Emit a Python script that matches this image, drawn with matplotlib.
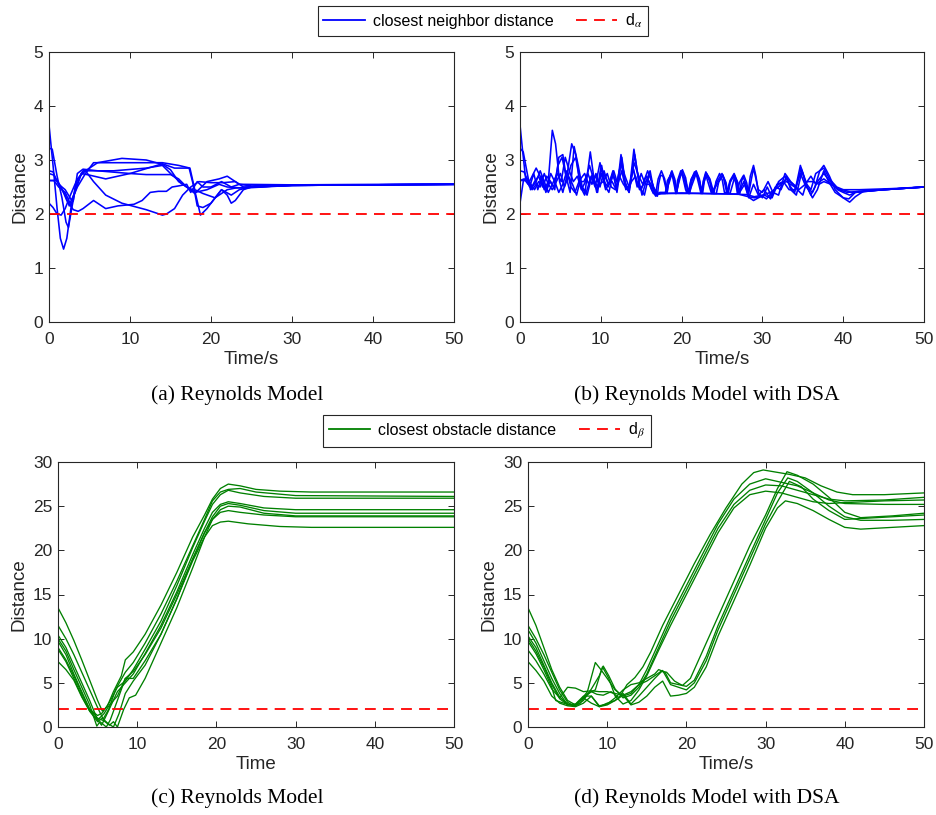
import matplotlib
matplotlib.use("Agg")
import matplotlib.pyplot as plt
from matplotlib.lines import Line2D

# ---- data: (time, distance) samples ----
A_CURVES = [
    [(0, 3.65), (0.5, 2.9), (1, 2.1), (1.4, 1.55), (1.8, 1.35), (2.2, 1.55), (2.7, 2.1), (3.4, 2.6), (4.2, 2.8), (5, 2.8), (8, 2.8), (12, 2.85), (14, 2.9), (15, 2.75), (16.5, 2.55), (18, 2.4), (19.5, 2.45), (21, 2.55), (22, 2.5), (24, 2.48), (30, 2.53), (50, 2.55)],
    [(0, 3.22), (0.4, 3.2), (1, 2.7), (1.6, 2.3), (2.1, 1.85), (2.4, 1.75), (2.8, 2.1), (3.3, 2.5), (4, 2.75), (5, 2.72), (7, 2.65), (10, 2.75), (14, 2.93), (15.5, 2.85), (17.3, 2.85), (17.8, 2.55), (18.3, 2.15), (19, 2.12), (20, 2.2), (21.3, 2.45), (22.5, 2.35), (23.5, 2.45), (25, 2.5), (30, 2.53), (50, 2.55)],
    [(0, 2.8), (0.5, 2.78), (1, 2.6), (2, 2.35), (2.5, 2.15), (3, 2.25), (3.5, 2.75), (4.2, 2.83), (6, 2.8), (10, 2.75), (12, 2.73), (15, 2.73), (16, 2.65), (17, 2.5), (18, 2.38), (19.5, 2.6), (21, 2.65), (22, 2.7), (23.5, 2.55), (25, 2.52), (30, 2.54), (50, 2.55)],
    [(0, 2.62), (1, 2.62), (1.5, 2.5), (2.2, 2.25), (3, 2.08), (3.6, 2.05), (4.2, 2.1), (5.5, 2.25), (7, 2.1), (8.5, 2.15), (10.5, 2.18), (11.5, 2.25), (12.5, 2.4), (13.5, 2.42), (14.5, 2.42), (15.2, 2.5), (16, 2.52), (17, 2.55), (17.5, 2.4), (18.3, 2.6), (19, 2.5), (20, 2.5), (21.3, 2.6), (22.5, 2.5), (23.5, 2.55), (30, 2.54), (50, 2.55)],
    [(0, 2.2), (0.5, 2.12), (1, 2.0), (1.5, 1.98), (2, 2.1), (2.5, 2.3), (3.5, 2.65), (4.5, 2.8), (5.5, 2.6), (7, 2.35), (9, 2.2), (12, 2.08), (14, 1.98), (14.5, 2.0), (15.5, 2.1), (16.5, 2.35), (17.5, 2.5), (18.5, 2.6), (20, 2.58), (21.5, 2.58), (23, 2.6), (24, 2.5), (30, 2.53), (50, 2.55)],
    [(0, 2.62), (0.6, 2.62), (1.2, 2.5), (2, 2.4), (2.6, 2.2), (3.2, 2.4), (4, 2.75), (5, 2.85), (6, 2.95), (9, 3.03), (12, 3.0), (14, 2.92), (15, 2.82), (16, 2.6), (17, 2.5), (18, 2.43), (18.7, 1.98), (19.5, 2.1), (20.5, 2.3), (22, 2.45), (23, 2.48), (25, 2.5), (30, 2.53), (50, 2.55)],
    [(0, 2.75), (0.6, 2.72), (1.2, 2.55), (2, 2.45), (2.8, 2.25), (3.5, 2.5), (4.5, 2.75), (5.5, 2.95), (7, 2.95), (10, 2.95), (14, 2.95), (16, 2.9), (17.4, 2.85), (18, 2.45), (19, 2.38), (20.5, 2.3), (21.3, 2.45), (22, 2.35), (22.5, 2.2), (23, 2.25), (24, 2.45), (25, 2.5), (30, 2.53), (50, 2.55)],
]

B_CURVES = [
    [(0, 2.62), (0.5, 2.65), (1, 2.55), (1.5, 2.7), (2, 2.85), (2.5, 2.7), (3, 2.45), (3.5, 2.6), (4, 3.55), (4.4, 3.3), (4.9, 2.6), (5.3, 2.4), (5.8, 2.7), (6.4, 3.3), (6.9, 3.1), (7.5, 2.5), (8, 2.35), (8.7, 3.15), (9.2, 2.6), (9.6, 2.4), (10.1, 2.9), (10.6, 2.5), (11, 2.4), (11.5, 2.75), (12, 2.45), (12.5, 3.1), (13, 2.6), (13.5, 2.4), (14.1, 3.2), (14.6, 2.7), (15.1, 2.35), (15.6, 2.6), (16.1, 2.8), (16.6, 2.4), (17, 2.33), (17.15, 2.55), (17.4, 2.72), (17.7, 2.7), (17.95, 2.55), (18.2, 2.38), (18.4, 2.62), (18.75, 2.78), (19.1, 2.62), (19.3, 2.38), (19.5, 2.62), (19.9, 2.8), (20.3, 2.68), (20.6, 2.55), (20.9, 2.38), (21.15, 2.62), (21.6, 2.78), (22.0, 2.68), (22.35, 2.5), (22.6, 2.38), (22.8, 2.6), (23.1, 2.75), (23.5, 2.65), (24, 2.38), (24.25, 2.6), (24.7, 2.75), (25.05, 2.62), (25.3, 2.4), (25.8, 2.4), (26.0, 2.58), (26.4, 2.7), (26.7, 2.58), (26.9, 2.38), (27.15, 2.58), (27.6, 2.7), (27.95, 2.55), (28.2, 2.35), (28.5, 2.7), (28.9, 2.9), (29.2, 2.7), (29.5, 2.4), (30, 2.3), (30.6, 2.5), (31.2, 2.3), (32, 2.6), (32.8, 2.7), (33.5, 2.5), (34, 2.4), (34.7, 2.9), (35.3, 2.6), (36, 2.35), (36.5, 2.5), (37.1, 2.8), (37.6, 2.9), (38.3, 2.7), (39, 2.45), (40, 2.3), (40.8, 2.22), (41.5, 2.32), (42.5, 2.42), (45, 2.45), (50, 2.5)],
    [(0, 3.65), (0.3, 3.2), (0.7, 2.65), (1.2, 2.5), (1.7, 2.75), (2.2, 2.45), (2.7, 2.7), (3.2, 2.4), (3.7, 2.6), (4.2, 2.5), (4.7, 2.9), (5.2, 3.05), (5.7, 2.7), (6.2, 2.4), (6.7, 3.25), (7.2, 2.9), (7.7, 2.5), (8.2, 2.4), (8.8, 2.7), (9.3, 2.5), (9.9, 2.95), (10.4, 2.6), (10.9, 2.5), (11.5, 2.8), (12, 2.4), (12.6, 3.05), (13.1, 2.5), (13.6, 2.5), (14.2, 3.1), (14.8, 2.5), (15.4, 2.35), (16, 2.75), (16.5, 2.5), (17, 2.38), (18, 2.38), (18.5, 2.6), (18.8, 2.75), (19.3, 2.38), (20, 2.78), (20.5, 2.45), (20.9, 2.38), (21.8, 2.75), (22.4, 2.38), (23, 2.72), (23.7, 2.38), (25.1, 2.72), (25.6, 2.4), (26, 2.38), (26.6, 2.7), (27.1, 2.38), (27.8, 2.55), (28.4, 2.3), (28.9, 2.25), (29.5, 2.3), (30.2, 2.35), (31, 2.3), (31.6, 2.5), (32.3, 2.45), (33, 2.7), (33.5, 2.45), (34.2, 2.35), (34.9, 2.8), (35.5, 2.5), (36.2, 2.3), (36.8, 2.45), (37.6, 2.8), (38.2, 2.6), (39, 2.4), (40, 2.3), (40.7, 2.28), (41.5, 2.4), (45, 2.45), (50, 2.5)],
    [(0, 3.22), (0.4, 3.15), (0.9, 2.75), (1.3, 2.45), (1.8, 2.6), (2.3, 2.7), (2.8, 2.5), (3.3, 2.7), (3.8, 2.6), (4.3, 2.45), (4.8, 3.05), (5.3, 3.1), (5.8, 2.6), (6.3, 2.9), (6.9, 3.05), (7.4, 2.6), (7.9, 2.6), (8.4, 2.75), (8.9, 2.55), (9.4, 2.75), (9.9, 2.5), (10.4, 2.8), (10.9, 2.55), (11.4, 2.6), (11.9, 2.45), (12.5, 2.95), (13, 2.7), (13.5, 2.5), (14, 2.85), (14.5, 2.55), (15, 2.45), (15.6, 2.7), (16.2, 2.55), (16.8, 2.35), (17.5, 2.38), (20, 2.39), (23, 2.38), (26, 2.37), (28, 2.36), (29, 2.32), (30, 2.35), (31, 2.4), (32, 2.5), (33, 2.65), (33.8, 2.55), (34.5, 2.45), (35.3, 2.55), (36, 2.7), (36.6, 2.55), (37.6, 2.65), (38.5, 2.55), (39.5, 2.45), (40.5, 2.45), (42, 2.45), (46, 2.47), (50, 2.5)],
    [(0, 2.8), (0.5, 2.78), (1, 2.6), (1.5, 2.45), (2, 2.55), (2.5, 2.5), (3, 2.75), (3.5, 2.55), (4, 2.45), (4.5, 2.6), (5, 2.75), (5.5, 2.5), (6, 2.7), (6.5, 2.55), (7, 2.35), (7.5, 2.65), (8, 2.75), (8.5, 2.55), (9, 2.75), (9.5, 2.4), (10, 2.85), (10.5, 2.7), (11, 2.55), (11.5, 2.7), (12, 2.6), (12.5, 2.95), (13, 2.55), (13.5, 2.4), (14, 2.85), (14.5, 2.5), (15, 2.75), (15.5, 2.55), (16, 2.55), (16.5, 2.38), (17.5, 2.38), (22, 2.38), (27, 2.37), (28, 2.33), (29, 2.3), (30, 2.33), (30.5, 2.28), (31.2, 2.4), (32, 2.55), (33, 2.6), (34, 2.5), (35, 2.35), (35.5, 2.6), (36.3, 2.6), (37, 2.55), (37.6, 2.6), (38.5, 2.55), (39.5, 2.45), (40.5, 2.4), (42, 2.42), (46, 2.46), (50, 2.5)],
    [(0, 2.2), (0.4, 2.6), (0.8, 2.68), (1.3, 2.55), (1.8, 2.45), (2.3, 2.6), (2.8, 2.55), (3.3, 2.45), (3.8, 2.75), (4.3, 2.6), (4.8, 2.4), (5.3, 2.55), (5.8, 2.8), (6.3, 2.5), (6.8, 2.4), (7.3, 2.6), (7.8, 2.45), (8.3, 2.35), (8.8, 2.65), (9.3, 2.7), (9.8, 2.55), (10.3, 2.6), (10.8, 2.75), (11.3, 2.5), (11.8, 2.45), (12.3, 2.7), (12.8, 2.55), (13.3, 2.45), (13.8, 2.6), (14.3, 2.7), (14.8, 2.45), (15.3, 2.55), (15.8, 2.65), (16.3, 2.45), (16.8, 2.33), (17.3, 2.4), (18, 2.4), (18.25, 2.62), (18.75, 2.75), (19.15, 2.62), (19.4, 2.4), (19.6, 2.62), (20, 2.8), (20.4, 2.62), (20.6, 2.4), (21, 2.38), (21.3, 2.62), (21.8, 2.78), (22.25, 2.6), (22.5, 2.38), (22.7, 2.6), (23, 2.75), (23.5, 2.6), (23.8, 2.38), (24.3, 2.38), (24.6, 2.6), (25.1, 2.72), (25.5, 2.58), (25.7, 2.38), (26, 2.6), (26.5, 2.72), (26.95, 2.58), (27.2, 2.38), (27.4, 2.6), (27.7, 2.72), (28.05, 2.58), (28.3, 2.38), (28.9, 2.85), (29.5, 2.45), (30, 2.4), (30.7, 2.6), (31.3, 2.4), (32, 2.35), (32.8, 2.75), (33.5, 2.6), (34.2, 2.5), (34.8, 2.85), (35.5, 2.55), (36, 2.45), (36.6, 2.75), (37.6, 2.85), (38.3, 2.65), (39.2, 2.5), (40, 2.45), (41, 2.4), (42, 2.42), (46, 2.46), (50, 2.5)],
    [(0, 2.62), (0.5, 2.62), (1, 2.65), (1.5, 2.5), (2, 2.6), (2.5, 2.8), (3, 2.6), (3.5, 2.4), (4, 2.55), (4.6, 2.75), (5.1, 2.6), (5.6, 3.05), (6.1, 2.8), (6.6, 2.6), (7.1, 2.7), (7.6, 2.45), (8.1, 2.6), (8.6, 2.9), (9.1, 2.65), (9.6, 2.5), (10.1, 2.75), (10.6, 2.45), (11.1, 2.6), (11.6, 2.8), (12.1, 2.55), (12.6, 2.8), (13.1, 2.45), (13.6, 2.55), (14.1, 2.95), (14.7, 2.7), (15.2, 2.55), (15.8, 2.8), (16.3, 2.6), (16.8, 2.38), (17.1, 2.65), (17.5, 2.8), (17.9, 2.65), (18.2, 2.4), (18.45, 2.65), (18.8, 2.8), (19.15, 2.65), (19.4, 2.4), (19.7, 2.67), (20.1, 2.82), (20.5, 2.67), (20.8, 2.4), (21.2, 2.65), (21.8, 2.8), (22.2, 2.65), (22.5, 2.4), (22.7, 2.62), (23, 2.78), (23.5, 2.62), (23.8, 2.4), (24.4, 2.6), (25, 2.75), (25.4, 2.6), (25.6, 2.4), (26, 2.62), (26.5, 2.75), (26.9, 2.6), (27.1, 2.4), (27.7, 2.6), (28.3, 2.3), (28.9, 2.55), (29.5, 2.35), (30.2, 2.45), (31, 2.28), (31.8, 2.55), (32.6, 2.6), (33.3, 2.45), (34, 2.45), (34.7, 2.75), (35.4, 2.5), (36.2, 2.4), (36.8, 2.6), (37.6, 2.75), (38.4, 2.6), (39.3, 2.45), (40, 2.4), (40.8, 2.35), (41.5, 2.4), (45, 2.45), (50, 2.5)],
]

C_CURVES = [
    [(0, 13.5), (1, 11.8), (2, 9.8), (3, 7.6), (4, 5.3), (5, 3.0), (5.6, 1.8), (6.2, 2.3), (7, 4.0), (8, 5.8), (8.5, 7.6), (9.5, 8.5), (11, 10.5), (13, 13.8), (15, 17.5), (17, 21.5), (18.5, 24.0), (19.5, 25.8), (20.5, 27.0), (21.5, 27.5), (23, 27.3), (25, 26.9), (28, 26.7), (32, 26.6), (50, 26.6)],
    [(0, 11.5), (1, 10.0), (2, 8.2), (3, 6.2), (4, 4.2), (5, 2.2), (5.7, 0.9), (6.4, 2.0), (7.3, 4.3), (8.5, 6.2), (9.5, 7.3), (11, 9.5), (13, 12.8), (15, 16.5), (17, 20.5), (18.5, 23.5), (19.5, 25.6), (20.5, 26.6), (21.5, 26.9), (23, 27.0), (25, 26.6), (30, 26.2), (50, 26.1)],
    [(0, 10.4), (1, 9.0), (2, 7.0), (3, 5.0), (4, 3.0), (5, 0.8), (5.5, 0.2), (6.2, 1.5), (7.5, 4.0), (8.5, 5.0), (9.5, 6.0), (11, 8.3), (13, 11.5), (15, 15.3), (17, 19.5), (18.5, 22.5), (19.5, 24.3), (20.5, 25.2), (21.5, 25.5), (23, 25.3), (26, 24.8), (30, 24.6), (50, 24.6)],
    [(0, 10.0), (1, 8.6), (2, 6.5), (3, 4.5), (4, 2.5), (4.9, 0.1), (5.3, 0.6), (6.1, 0.0), (6.6, 0.8), (7.7, 3.5), (8.5, 5.5), (9.5, 6.3), (11, 8.2), (13, 11.2), (15, 15.0), (17, 19.0), (18.5, 22.0), (19.5, 23.8), (20.5, 25.0), (21.5, 25.3), (23, 25.1), (26, 24.5), (30, 24.2), (50, 24.2)],
    [(0, 9.7), (1, 8.2), (2, 6.0), (3, 4.0), (4, 2.0), (5, 1.0), (5.8, 0.7), (6.5, 0.2), (7, 0.6), (7.5, 0.0), (8.3, 2.0), (9, 3.3), (9.8, 3.6), (11, 5.5), (13, 9.5), (15, 13.5), (17, 18.0), (18.5, 21.5), (19.5, 23.5), (20.5, 24.6), (21.5, 25.0), (23, 24.9), (26, 24.2), (30, 23.9), (50, 23.9)],
    [(0, 8.8), (1, 7.4), (2, 5.5), (3, 3.5), (4, 1.8), (5, 0.6), (5.6, 1.0), (6.3, 0.4), (7, 0.0), (7.7, 1.5), (8.5, 3.8), (9.5, 5.2), (11, 7.0), (13, 10.5), (15, 14.5), (17, 19.0), (18.5, 22.0), (19.5, 23.5), (20.5, 24.3), (21.5, 24.5), (23, 24.3), (26, 24.0), (30, 23.8), (50, 23.8)],
    [(0, 7.4), (1, 6.5), (2, 5.3), (3, 3.4), (4, 1.8), (5, 0.8), (5.8, 1.5), (6.5, 2.5), (7.5, 3.5), (8.5, 5.5), (9.5, 5.5), (11, 7.5), (13, 10.5), (15, 14.5), (17, 18.8), (18.5, 21.5), (19.5, 22.8), (20.5, 23.2), (21.5, 23.3), (24, 23.0), (28, 22.7), (32, 22.6), (50, 22.6)],
    [(0, 9.0), (1, 7.6), (2, 5.8), (3, 3.8), (4, 2.0), (5, 1.3), (5.6, 1.6), (6.5, 2.8), (7.5, 4.5), (8.5, 5.2), (9.5, 6.5), (11, 8.8), (13, 12.0), (15, 16.0), (17, 20.3), (18.5, 23.3), (19.5, 25.2), (20.5, 26.3), (21.5, 26.8), (23, 26.5), (26, 26.1), (30, 25.9), (50, 25.9)],
]

D_CURVES = [
    [(0, 13.5), (1, 11.5), (2, 9.0), (3, 6.5), (4, 4.5), (5, 3.0), (6, 2.5), (7, 3.3), (8, 4.0), (8.7, 3.7), (9.5, 3.6), (10.5, 4.0), (11.5, 3.3), (12.5, 4.8), (13.5, 5.6), (14.5, 6.8), (15.5, 8.5), (17, 11.5), (19, 15.0), (21, 18.5), (23, 21.8), (25, 24.8), (27, 27.5), (28.5, 28.8), (29.7, 29.1), (31, 28.9), (33, 28.6), (35, 28.2), (37, 27.3), (39, 26.6), (41, 26.3), (45, 26.3), (50, 26.5)],
    [(0, 11.5), (1, 10.0), (2, 8.2), (3, 6.2), (4, 4.2), (5, 2.8), (5.8, 2.4), (6.8, 3.2), (7.5, 4.0), (8.5, 7.3), (9.2, 6.5), (10, 5.5), (11, 4.2), (12, 3.5), (13, 3.8), (14, 4.8), (15, 6.5), (16.5, 9.5), (18, 12.5), (20, 16.0), (22, 19.5), (24, 23.0), (26, 25.8), (28, 27.5), (30, 28.1), (32, 27.7), (34, 27.3), (36, 26.5), (38, 25.7), (40, 25.3), (45, 25.2), (50, 25.2)],
    [(0, 10.3), (1, 9.0), (2, 7.0), (3, 5.0), (4, 3.4), (5, 2.6), (6, 2.4), (7, 3.0), (8, 4.3), (9, 5.8), (9.5, 6.9), (10.2, 5.8), (11, 4.3), (12, 3.3), (13, 3.6), (14, 4.5), (15, 6.0), (16.5, 9.0), (18, 12.0), (20, 15.5), (22, 19.0), (24, 22.5), (26, 25.2), (28, 26.8), (30, 27.4), (32, 27.3), (34, 26.8), (36, 26.3), (38, 25.8), (40, 25.6), (45, 25.7), (50, 26.0)],
    [(0, 9.7), (1, 8.3), (2, 6.5), (3, 4.5), (3.5, 3.0), (4.5, 2.7), (5.5, 2.5), (6.5, 2.6), (7.5, 3.8), (8.5, 4.2), (9.4, 6.8), (10.2, 5.5), (11, 3.5), (12, 2.6), (13, 3.0), (14, 4.2), (15, 5.8), (16.5, 8.7), (18, 11.5), (20, 15.0), (22, 18.5), (24, 22.0), (26, 24.8), (28, 26.3), (30, 26.7), (32, 26.5), (34, 26.0), (36, 25.5), (38, 25.3), (40, 25.4), (45, 25.6), (50, 25.7)],
    [(0, 8.7), (1, 7.5), (2, 6.0), (3, 4.3), (4, 3.3), (5, 4.5), (6, 4.4), (7, 4.0), (8, 4.1), (9, 4.0), (10, 4.0), (11, 3.8), (12, 3.6), (13, 4.0), (14, 4.8), (15, 5.2), (16, 5.8), (16.8, 6.3), (17.5, 6.2), (18.5, 5.2), (19.5, 4.7), (20.5, 5.5), (22, 8.5), (24, 12.5), (26, 16.5), (28, 20.5), (30, 24.0), (31.5, 27.0), (32.7, 28.9), (34, 28.5), (36, 27.5), (38, 26.0), (40, 24.3), (42, 23.7), (46, 23.9), (50, 24.2)],
    [(0, 7.4), (1, 6.4), (2, 5.2), (3, 3.5), (4, 2.7), (5, 2.4), (6, 2.3), (7, 2.7), (8, 3.5), (9, 2.4), (10, 2.6), (11, 3.3), (12, 4.2), (13, 4.8), (14, 5.0), (15, 5.5), (16, 6.0), (16.5, 6.5), (17.3, 6.2), (18, 5.0), (19, 4.8), (20, 4.6), (21, 5.3), (22.5, 8.0), (24, 11.5), (26, 15.5), (28, 19.5), (30, 23.5), (31.5, 26.5), (32.8, 28.2), (34, 27.8), (36, 26.5), (38, 25.0), (40, 23.8), (42, 23.4), (46, 23.4), (50, 23.5)],
    [(0, 10.0), (1, 8.6), (2, 6.8), (3, 4.8), (4, 3.2), (5, 2.5), (6, 2.6), (7, 3.5), (8, 3.5), (9, 2.3), (10, 2.7), (11, 3.0), (12, 3.8), (13, 2.6), (14, 3.5), (15, 4.5), (16, 5.5), (17, 6.4), (18, 4.8), (19, 4.5), (20, 4.2), (21, 5.0), (22.5, 7.5), (24, 11.0), (26, 15.0), (28, 19.0), (30, 23.0), (31.5, 25.5), (33, 27.8), (34.5, 27.2), (36, 25.8), (38, 24.5), (40, 23.5), (42, 23.6), (46, 23.8), (50, 24.0)],
    [(0, 11.0), (1, 9.5), (2, 7.5), (3, 5.5), (4, 3.8), (5, 2.5), (6, 2.5), (7, 3.3), (8, 2.7), (9, 2.3), (10, 2.5), (11, 3.0), (12, 3.6), (13, 2.5), (14, 2.8), (15, 3.5), (16, 4.5), (17, 5.2), (18, 3.5), (19, 3.6), (20, 3.8), (21, 4.5), (22.5, 6.8), (24, 10.3), (26, 14.3), (28, 18.3), (30, 22.5), (31.5, 24.8), (32.5, 25.6), (34, 25.3), (36, 24.5), (38, 23.5), (40, 22.6), (42, 22.4), (46, 22.6), (50, 22.8)],
]

D_ALPHA = 2
D_BETA = 2

CAPTIONS = ["(a) Reynolds Model", "(b) Reynolds Model with DSA",
            "(c) Reynolds Model", "(d) Reynolds Model with DSA"]
XLABELS = ["Time/s", "Time/s", "Time", "Time/s"]

plt.rcParams["font.family"] = ["Liberation Sans", "DejaVu Sans"]
plt.rcParams["mathtext.fontset"] = "stix"

W, H = 937, 815
fig = plt.figure(figsize=(W / 100, H / 100), dpi=100)

AX_COLOR = "#262626"
BLUE = "#0000FF"
GREEN = "#008000"
RED = "#FF0000"
DASH = (0, (6, 4))


def px_axes(left, top, right, bottom):
    return fig.add_axes([left / W, 1 - bottom / H, (right - left) / W, (bottom - top) / H])


def style(ax, ymax, yticks, xlabel):
    ax.set_xlim(0, 50)
    ax.set_ylim(0, ymax)
    ax.set_xticks([0, 10, 20, 30, 40, 50])
    ax.set_yticks(yticks)
    ax.tick_params(direction="in", top=True, right=True, length=4, width=0.7,
                   colors=AX_COLOR, labelsize=12.5)
    ax.tick_params(axis="x", pad=7)
    ax.tick_params(axis="y", pad=4)
    for s in ax.spines.values():
        s.set_color(AX_COLOR)
        s.set_linewidth(0.8)
    ax.set_xlabel(xlabel, fontsize=13.5, color=AX_COLOR, labelpad=3)
    ax.set_ylabel("Distance", fontsize=13.5, color=AX_COLOR, labelpad=4)


def draw(ax, curves, color, lw, thresh):
    for c in curves:
        t = [p[0] for p in c]
        v = [p[1] for p in c]
        ax.plot(t, v, color=color, lw=lw, solid_joinstyle="round")
    ax.plot([0, 50], [thresh, thresh], color=RED, lw=1.3, linestyle=DASH)


ax_a = px_axes(49, 52, 454, 322)
draw(ax_a, A_CURVES, BLUE, 1.15, D_ALPHA)
style(ax_a, 5, [0, 1, 2, 3, 4, 5], XLABELS[0])

ax_b = px_axes(520, 52, 924, 322)
draw(ax_b, B_CURVES, BLUE, 1.15, D_ALPHA)
style(ax_b, 5, [0, 1, 2, 3, 4, 5], XLABELS[1])

ax_c = px_axes(58, 462, 454, 727)
draw(ax_c, C_CURVES, GREEN, 0.95, D_BETA)
style(ax_c, 30, [0, 5, 10, 15, 20, 25, 30], XLABELS[2])

ax_d = px_axes(528, 462, 924, 727)
draw(ax_d, D_CURVES, GREEN, 0.95, D_BETA)
style(ax_d, 30, [0, 5, 10, 15, 20, 25, 30], XLABELS[3])

# captions
for x, y, txt in [(237, 395, CAPTIONS[0]), (707, 395, CAPTIONS[1]),
                  (237, 798, CAPTIONS[2]), (707, 798, CAPTIONS[3])]:
    fig.text(x / W, 1 - y / H, txt, ha="center", va="center",
             fontsize=15.5, family="Liberation Serif", color="black")

# legends
def add_legend(color, label, sub, cx, cy):
    handles = [Line2D([], [], color=color, lw=1.3),
               Line2D([], [], color=RED, lw=1.3, linestyle=DASH)]
    labels = [label, "d$_{" + sub + "}$"]
    leg = fig.legend(handles, labels, loc="center", ncol=2,
                     bbox_to_anchor=(cx / W, 1 - cy / H), fontsize=11.5,
                     frameon=True, fancybox=False, framealpha=1,
                     edgecolor=AX_COLOR, handlelength=2.6, columnspacing=1.4,
                     handletextpad=0.5, borderpad=0.35)
    leg.get_frame().set_linewidth(0.8)


add_legend(BLUE, "closest neighbor distance", r"\alpha", 483, 21)
add_legend(GREEN, "closest obstacle distance", r"\beta", 487, 431)

fig.savefig("out.png", dpi=100)
